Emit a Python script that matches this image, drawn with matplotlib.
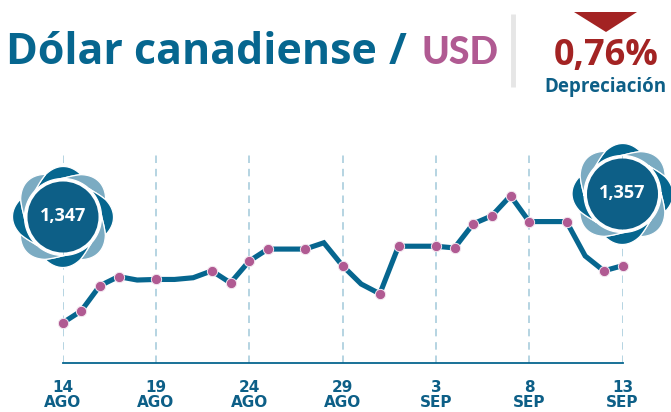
import matplotlib
matplotlib.use("Agg")
import matplotlib.pyplot as plt
import numpy as np
from matplotlib.patches import Circle, Polygon

# valores
rates = [1.3470, 1.3491, 1.3535, 1.3551, 1.3545, 1.3546, 1.3546, 1.3549, 1.3561, 1.3540,
         1.3578, 1.3599, 1.3599, 1.3599, 1.3610, 1.3570, 1.3538, 1.3521, 1.3604, 1.3604,
         1.3604, 1.3601, 1.3643, 1.3657, 1.3692, 1.3647, 1.3647, 1.3647, 1.3587, 1.3561,
         1.3570]
marked = [0, 1, 2, 3, 5, 8, 9, 10, 11, 13, 15, 17, 18, 20, 21, 22, 23, 24, 25, 27, 29, 30]
tick_days = [0, 5, 10, 15, 20, 25, 30]
tick_labels = ["14\nAGO", "19\nAGO", "24\nAGO", "29\nAGO", "3\nSEP", "8\nSEP", "13\nSEP"]
start_label = "1,347"
end_label = "1,357"

BLUE = "#06668f"
DARK = "#0d5f87"
LIGHT = "#7babc2"
PINK = "#b05a92"
RED = "#a32323"
FONT = "Open Sans"

W, H = 671, 412
fig = plt.figure(figsize=(W / 100, H / 100), dpi=100)


def petal(ax, cx, cy, ang, color):
    # pieza del molinete, en pixeles: borde interior, divisor, arco exterior, divisor
    step = np.radians(45)
    skew = np.radians(26)
    u = np.linspace(0, 1, 14)
    s = np.linspace(0, 1, 30)
    a = np.r_[ang + skew * u, ang + skew + step * s, ang + step + skew * u[::-1], ang + step * s[::-1]]
    r = np.r_[38.5 + 7.5 * u ** 1.5, 46 + 4.5 * np.sin(np.pi * s), 38.5 + 7.5 * u[::-1] ** 1.5, np.full(30, 38.5)]
    ax.add_patch(Polygon(np.c_[cx + r * np.cos(a), cy + r * np.sin(a)], closed=True,
                         fc=color, ec="white", lw=0.9, zorder=5))


def badge(ax, cx, cy, label):
    for i in range(8):
        color = BLUE if i % 2 == 0 else LIGHT
        petal(ax, cx, cy, np.radians(-138 + 45 * i), color)
    ax.add_patch(Circle((cx, cy), 35.5, fc=DARK, ec="none", zorder=6))
    ax.text(cx, cy - 1, label, color="white", fontsize=13, fontweight="bold", family=FONT,
            ha="center", va="center", zorder=7)


# grafico
ax = fig.add_axes([62.5 / W, 1 - 363 / H, 560 / W, 213 / H])
ax.set_xlim(0, 30)
ax.set_ylim(1.34002, 1.37719)
for d in tick_days:
    ax.axvline(d, color="#a9cddd", lw=1.2, dashes=(4.5, 3.5), zorder=1)
ax.plot(rates, color=BLUE, lw=3.7, solid_joinstyle="miter", zorder=3, clip_on=False)
ax.plot(marked, [rates[i] for i in marked], ls="none", marker="o", ms=7.4, mfc=PINK, mec="#f3e6ef",
        mew=0.7, zorder=4, clip_on=False)
for s in ["top", "left", "right"]:
    ax.spines[s].set_visible(False)
ax.spines["bottom"].set_color(BLUE)
ax.spines["bottom"].set_linewidth(1.3)
ax.set_yticks([])
ax.set_xticks(tick_days)
ax.set_xticklabels(tick_labels, color=DARK, fontsize=11, fontweight="bold", family="DejaVu Sans", linespacing=1.05)
ax.tick_params(axis="x", length=0, pad=12)

# capa en pixeles para titulo e insignias
top = fig.add_axes([0, 0, 1, 1], facecolor="none")
top.set_xlim(0, W)
top.set_ylim(H, 0)
top.axis("off")
top.text(6, 64, "Dólar canadiense", color=BLUE, fontsize=31, fontweight="bold", family=FONT,
         ha="left", va="baseline")
top.text(389, 64, "/", color=BLUE, fontsize=31, fontweight="bold", family=FONT,
         ha="left", va="baseline")
top.text(421, 64, "USD", color=PINK, fontsize=27, fontweight=900, family="Lato",
         ha="left", va="baseline")
top.plot([513, 513], [14, 87], color="#e6e6e6", lw=3.5, solid_capstyle="butt")
top.add_patch(Polygon([[574, 12], [637, 12], [606, 32]], closed=True, fc=RED, ec="none"))
top.text(606, 65, "0,76%", color=RED, fontsize=26, fontweight="bold", family=FONT,
         ha="center", va="baseline")
top.text(605, 92, "Depreciación", color=DARK, fontsize=13.5, fontweight="bold", family=FONT,
         ha="center", va="baseline")
badge(top, 63, 217, start_label)
badge(top, 622.5, 194, end_label)

fig.savefig("out.png", dpi=100)
